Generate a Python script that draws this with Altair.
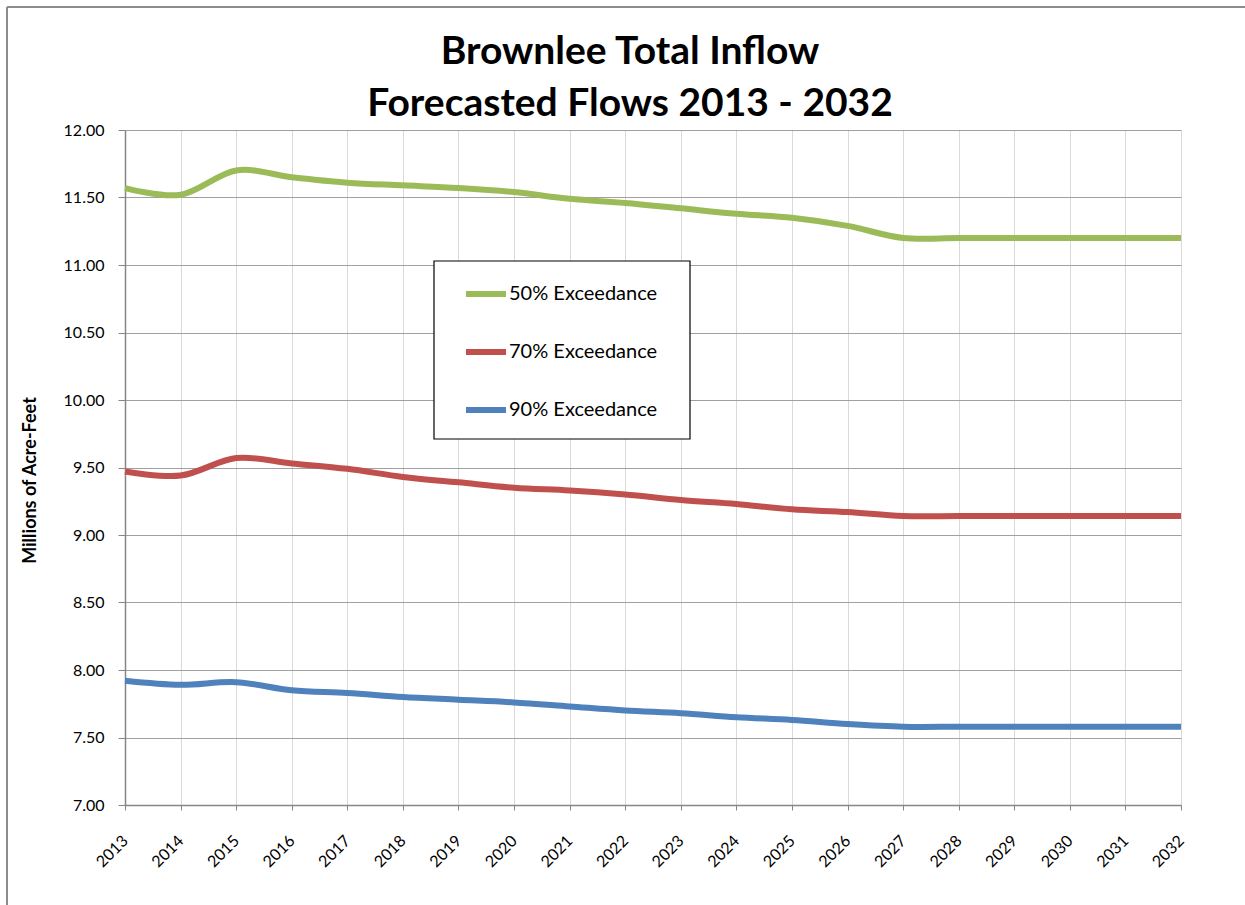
import altair as alt
import pandas as pd

years = list(range(2013, 2033))
p50 = [11.57, 11.52, 11.70, 11.65, 11.61, 11.59, 11.57, 11.54, 11.49, 11.46,
       11.42, 11.38, 11.35, 11.29, 11.20, 11.20, 11.20, 11.20, 11.20, 11.20]
p70 = [9.47, 9.44, 9.57, 9.53, 9.49, 9.43, 9.39, 9.35, 9.33, 9.30,
       9.26, 9.23, 9.19, 9.17, 9.14, 9.14, 9.14, 9.14, 9.14, 9.14]
p90 = [7.92, 7.89, 7.91, 7.85, 7.83, 7.80, 7.78, 7.76, 7.73, 7.70,
       7.68, 7.65, 7.63, 7.60, 7.58, 7.58, 7.58, 7.58, 7.58, 7.58]
series = ["50% Exceedance", "70% Exceedance", "90% Exceedance"]
colors = ["#9BBB59", "#C0504D", "#4F81BD"]
y_ticks = [7.0, 7.5, 8.0, 8.5, 9.0, 9.5, 10.0, 10.5, 11.0, 11.5, 12.0]

rows = []
for name, vals in zip(series, [p50, p70, p90]):
    for yr, v in zip(years, vals):
        rows.append({"Year": yr, "Value": v, "Series": name})
df = pd.DataFrame(rows)

FONT = "Lato"
W, H = 1056, 675

lines = alt.Chart(df).mark_line(strokeWidth=6, interpolate="cardinal").encode(
    x=alt.X("Year:Q",
            scale=alt.Scale(domain=[2013, 2032], nice=False, zero=False),
            axis=alt.Axis(values=years, format="d", labelAngle=-45, title=None,
                          labelFont=FONT, labelFontSize=16, labelColor="#000000",
                          labelAlign="right", labelBaseline="middle", labelPadding=28,
                          tickSize=5, tickColor="#868686", domainColor="#868686",
                          domainWidth=1.5, gridColor="#d9d9d9", gridWidth=1,
                          labelOverlap=False)),
    y=alt.Y("Value:Q",
            scale=alt.Scale(domain=[7, 12], nice=False, zero=False),
            axis=alt.Axis(values=y_ticks, format=".2f", title="Millions  of Acre-Feet",
                          labelFont=FONT, labelFontSize=16, labelColor="#000000",
                          labelPadding=14, tickSize=7, tickColor="#868686",
                          domainColor="#868686", domainWidth=1.5,
                          gridColor="#a0a0a0", gridWidth=1.2,
                          titleFont=FONT, titleFontSize=18, titleFontWeight="bold",
                          titleColor="#000000", titleX=-95, titleY=350,
                          titleAngle=-90, titleBaseline="middle", titleAlign="center")),
    color=alt.Color("Series:N",
                    scale=alt.Scale(domain=series, range=colors),
                    legend=alt.Legend(title=None, orient="none", legendX=309, legendY=130,
                                      padding=11, symbolOffset=18, symbolType="stroke",
                                      symbolSize=1600, symbolStrokeWidth=6,
                                      labelFont=FONT, labelFontSize=20, labelColor="#000000",
                                      labelOffset=0, rowPadding=23)),
)

# decorative frame: chart-area border and legend box
deco_df = pd.DataFrame({"k": [0]})
top_border = alt.Chart(deco_df).mark_rule(color="#8c8c8c", strokeWidth=2).encode(
    x=alt.value(-118), x2=alt.value(1120), y=alt.value(-123))
left_border = alt.Chart(deco_df).mark_rule(color="#8c8c8c", strokeWidth=2).encode(
    x=alt.value(-118), y=alt.value(-123), y2=alt.value(775))
legend_box = alt.Chart(deco_df).mark_rect(fill="#ffffff", stroke="#000000", strokeWidth=1.2).encode(
    x=alt.value(309), x2=alt.value(565), y=alt.value(131), y2=alt.value(309))

chart = alt.layer(top_border, left_border, lines, legend_box).properties(
    width=W, height=H,
    title=alt.TitleParams(text=["Brownlee Total Inflow", "Forecasted Flows 2013 - 2032"],
                          font=FONT, fontSize=39, fontWeight="bold", color="#000000",
                          anchor="middle", dx=-23, lineHeight=52, baseline="bottom",
                          offset=-157),
    autosize=alt.AutoSizeParams(type="none"),
    padding={"left": 125, "top": 130, "right": 64, "bottom": 100},
).configure_view(stroke=None).configure(background="#ffffff")

chart.save("out.html", embed_options={"renderer": "svg", "actions": False})
